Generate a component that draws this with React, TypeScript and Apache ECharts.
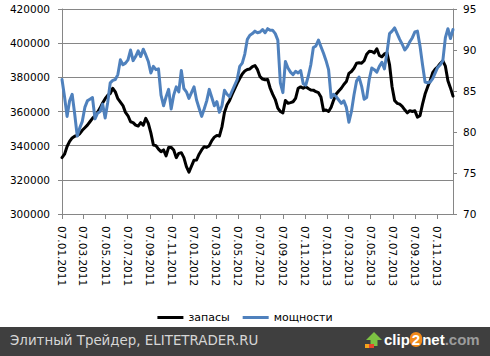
import React, { useEffect, useRef } from "react";
import * as echarts from "echarts";

// Weekly observations, first one on 07.01.2011
const START_DATE = Date.UTC(2011, 0, 7);
const WEEK_MS = 7 * 24 * 3600 * 1000;

const seriesNames = ["запасы", "мощности"];

// запасы (left axis)
const stocks = [
  333000, 335000, 339500, 342500, 344500, 345500, 346000, 347000, 349000, 350500,
  352000, 354000, 356000, 357500, 359500, 362000, 365000, 367500, 369500, 370500,
  373600, 371500, 367500, 365500, 363500, 359500, 357500, 354000, 353500, 352000,
  351500, 353500, 352000, 356000, 353000, 347500, 340400, 340000, 338000, 336500,
  337500, 334000, 339000, 339000, 337500, 333000, 335500, 335900, 333000, 327700,
  324500, 328000, 331500, 331600, 335000, 337500, 339400, 339000, 340000, 343000,
  345000, 346000, 345600, 351000, 359500, 364000, 366500, 370000, 373200, 376500,
  379300, 382000, 383700, 384600, 384900, 386300, 386900, 384500, 380400, 379000,
  378600, 378800, 373600, 370000, 367000, 362000, 360000, 359200, 366500, 364800,
  365200, 365700, 367700, 373600, 374400, 373600, 374500, 373500, 372600, 372500,
  371600, 371000, 368500, 360500, 360900, 360000, 362500, 366700, 370200, 372000,
  373600, 375800, 377500, 382300, 383400, 385300, 388200, 388500, 388300, 389700,
  393500, 395200, 395100, 394300, 396700, 392800, 392000, 393700, 394400, 387500,
  374500, 366500, 364800, 364300, 363000, 361000, 359200, 360500, 360000, 360400,
  356700, 357500, 364300, 370200, 374400, 378000, 382700, 384800, 386200, 388100,
  389700, 386500, 378000, 373800, 369000,
];

// мощности (right axis, %)
const capacity = [
  86.4, 84.3, 81.9, 83.8, 84.6, 82.2, 79.5, 80.5, 81.3, 83.0,
  83.8, 84.0, 84.2, 81.6, 82.3, 82.5, 83.4, 81.7, 83.6, 86.0,
  86.3, 86.4, 87.0, 88.8, 88.2, 88.4, 88.8, 90.0, 88.7, 89.2,
  89.9, 89.2, 90.1, 89.4, 88.6, 87.2, 88.0, 87.6, 87.7, 84.5,
  83.2, 84.3, 85.2, 82.8, 84.5, 85.5, 84.9, 87.5, 85.3, 84.9,
  84.1, 84.8, 85.5, 83.9, 82.9, 81.9, 82.8, 83.8, 85.2, 84.2,
  83.2, 83.7, 82.4, 83.2, 85.1, 84.6, 84.3, 85.0, 85.7, 86.4,
  88.0, 88.4, 89.5, 91.3, 91.8, 92.0, 92.3, 92.1, 92.2, 92.5,
  92.1, 92.6, 92.4, 92.4, 92.0, 91.2, 86.0, 84.8, 88.6, 87.8,
  87.3, 87.0, 87.4, 87.2, 87.5, 85.9, 85.7, 86.8, 88.2, 90.3,
  90.5, 91.2, 90.4, 89.6, 88.7, 87.6, 84.2, 84.6, 84.3, 83.9,
  83.5, 83.8, 83.0, 81.2, 82.5, 84.5, 86.2, 86.7, 85.6, 84.0,
  84.2, 86.4, 87.8, 87.6, 87.3, 88.0, 88.5, 87.7, 89.7, 92.0,
  92.3, 92.7, 92.0, 91.3, 90.7, 90.0, 90.4, 91.0, 91.5, 92.2,
  92.3, 90.5, 88.2, 86.1, 86.0, 86.1, 86.5, 87.2, 87.9, 88.2,
  88.7, 91.5, 92.6, 91.4, 92.5,
];

const tickDates = [
  "2011-01-07", "2011-03-07", "2011-05-07", "2011-07-07", "2011-09-07", "2011-11-07",
  "2012-01-07", "2012-03-07", "2012-05-07", "2012-07-07", "2012-09-07", "2012-11-07",
  "2013-01-07", "2013-03-07", "2013-05-07", "2013-07-07", "2013-09-07", "2013-11-07",
];

const leftAxis = { min: 300000, max: 420000, interval: 20000 };
const rightAxis = { min: 70, max: 95, interval: 5 };

const footerText = "Элитный Трейдер, ELITETRADER.RU";

const FONT = "DejaVu Sans";
const GRID_COLOR = "#868686";

const pad = (n: number) => (n < 10 ? "0" + n : "" + n);
const fmtDate = (v: number) => {
  const d = new Date(v);
  return pad(d.getUTCDate()) + "." + pad(d.getUTCMonth() + 1) + "." + d.getUTCFullYear();
};

export default function App() {
  const ref = useRef<HTMLDivElement>(null);

  useEffect(() => {
    if (!ref.current) return;
    const chart = echarts.init(ref.current, null, { renderer: "svg" });
    const weeks = stocks.map((_, i) => START_DATE + i * WEEK_MS);
    const tickTs = tickDates.map((s) => Date.parse(s + "T00:00:00Z"));

    chart.setOption({
      animation: false,
      backgroundColor: "#ffffff",
      grid: { left: 62, right: 37, top: 9, bottom: 142, containLabel: false },
      legend: {
        left: "center",
        top: 307,
        itemWidth: 26,
        itemHeight: 3,
        itemGap: 13,
        icon: "rect",
        textStyle: { fontFamily: FONT, fontSize: 11, color: "#000" },
        data: seriesNames,
      },
      xAxis: {
        type: "value",
        min: weeks[0],
        max: weeks[weeks.length - 1],
        axisLine: { show: true, lineStyle: { color: GRID_COLOR, width: 1 } },
        axisTick: {
          show: true,
          customValues: tickTs,
          length: 5,
          lineStyle: { color: GRID_COLOR },
        },
        axisLabel: {
          customValues: tickTs,
          rotate: -90,
          margin: 12,
          formatter: (v: number) => fmtDate(v),
          color: "#000",
          fontFamily: FONT,
          fontSize: 10.5,
          hideOverlap: false,
          showMinLabel: true,
          showMaxLabel: true,
        },
        splitLine: { show: false },
      },
      yAxis: [
        {
          type: "value",
          ...leftAxis,
          position: "left",
          axisLine: { show: true, lineStyle: { color: GRID_COLOR } },
          axisTick: { show: true, length: 4, lineStyle: { color: GRID_COLOR } },
          axisLabel: {
            color: "#000",
            fontFamily: FONT,
            fontSize: 10.5,
            margin: 12,
            formatter: (v: number) => String(v),
          },
          splitLine: { show: true, lineStyle: { color: GRID_COLOR, width: 1 } },
        },
        {
          type: "value",
          ...rightAxis,
          position: "right",
          axisLine: { show: true, lineStyle: { color: GRID_COLOR } },
          axisTick: { show: true, length: 4, lineStyle: { color: GRID_COLOR } },
          axisLabel: {
            color: "#000",
            fontFamily: FONT,
            fontSize: 10.5,
            margin: 10,
            formatter: (v: number) => String(v),
          },
          splitLine: { show: false },
        },
      ],
      series: [
        {
          name: seriesNames[0],
          type: "line",
          yAxisIndex: 0,
          data: weeks.map((t, i) => [t, stocks[i]]),
          showSymbol: false,
          symbol: "none",
          color: "#000000",
          lineStyle: { color: "#000000", width: 3, join: "round", cap: "round" },
        },
        {
          name: seriesNames[1],
          type: "line",
          yAxisIndex: 1,
          data: weeks.map((t, i) => [t, capacity[i]]),
          showSymbol: false,
          symbol: "none",
          color: "#4f81bd",
          lineStyle: { color: "#4f81bd", width: 3, join: "round", cap: "round" },
        },
      ],
      graphic: [
        {
          type: "rect",
          left: 0,
          top: 327,
          shape: { width: 490, height: 29 },
          style: { fill: "#3f3f3f" },
          silent: true,
        },
        {
          type: "text",
          left: 10,
          top: 334,
          style: {
            text: footerText,
            fill: "#d6d6d6",
            font: "13.4px 'DejaVu Sans'",
          },
          silent: true,
        },
        {
          type: "polygon",
          shape: {
            points: [
              [374, 332], [366, 340], [370.5, 340], [370.5, 346], [377.5, 346], [377.5, 340], [382, 340],
            ],
          },
          style: { fill: "#7dc243" },
          silent: true,
        },
        {
          type: "rect",
          shape: { x: 365, y: 344, width: 9, height: 4 },
          style: { fill: "#e8452c" },
          silent: true,
        },
        {
          type: "rect",
          shape: { x: 365, y: 344, width: 4, height: 4 },
          style: { fill: "#f6a31b" },
          silent: true,
        },
        {
          type: "text",
          left: 384,
          top: 332,
          style: {
            text: "{a|clip}{b|2}{a|net}{c|.com}",
            rich: {
              a: { fill: "#ffffff", font: "bold 15px 'Liberation Sans'" },
              b: {
                fill: "#ffffff",
                font: "bold 15px 'Liberation Sans'",
                backgroundColor: "#f28a1a",
                borderRadius: 8,
                padding: [0, 2, 0, 2],
              },
              c: { fill: "#9c9c9c", font: "bold 15px 'Liberation Sans'" },
            },
          },
          silent: true,
        },
      ],
    });
    return () => chart.dispose();
  }, []);

  return (
    <div
      ref={ref}
      style={{ position: "fixed", left: 0, top: 0, width: 490, height: 356, background: "#fff" }}
    />
  );
}
